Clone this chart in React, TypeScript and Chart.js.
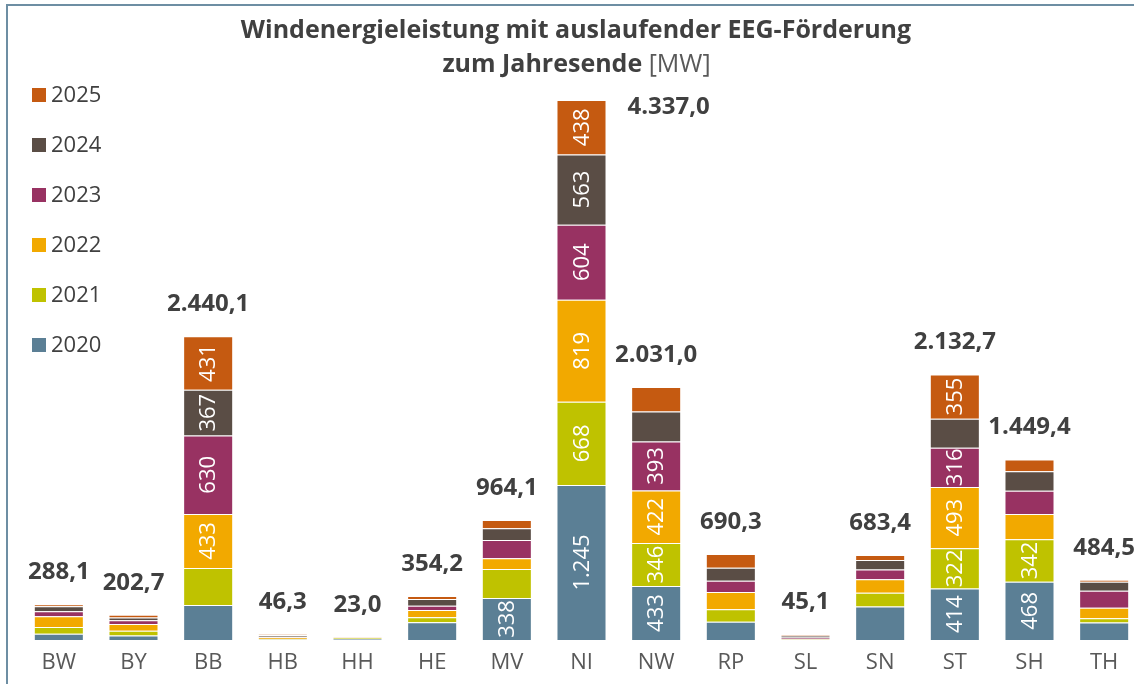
import React, { useEffect, useRef } from "react";
import { Chart, registerables } from "chart.js";

Chart.register(...registerables);

const states = ["BW", "BY", "BB", "HB", "HH", "HE", "MV", "NI", "NW", "RP", "SL", "SN", "ST", "SH", "TH"];
const years = ["2020", "2021", "2022", "2023", "2024", "2025"];
const mw2020 = [51, 36, 282, 4, 8, 142, 338, 1245, 433, 147, 3, 268.4, 414, 468, 141];
const mw2021 = [54, 38, 297.1, 4, 9, 40, 233, 668, 346, 99, 3, 112, 322, 342, 34];
const mw2022 = [86, 55, 433, 14, 2, 59, 86, 819, 422, 139, 5, 107, 493, 202, 85];
const mw2023 = [40, 30, 630, 4, 1, 35, 147, 604, 393, 91, 10, 78, 316, 186, 136];
const mw2024 = [40, 22, 367, 14, 2, 54, 94, 563, 241, 104, 16, 78, 232.7, 158, 72];
const mw2025 = [17.1, 21.7, 431, 6.3, 1, 24.2, 66.1, 438, 196, 110.3, 8.1, 40, 355, 93.4, 16.5];
const series = [mw2020, mw2021, mw2022, mw2023, mw2024, mw2025];
const colors = ["#5b7f95", "#bfc200", "#f2a900", "#983262", "#5a4d45", "#c55a11"];

const titleLine1 = "Windenergieleistung mit auslaufender EEG-Förderung";
const titleLine2Bold = "zum Jahresende";
const titleLine2Unit = " [MW]";

const LABEL_MIN = 300;
const FONT = "'Open Sans', sans-serif";

const sep = (s: string) => s.replace(/\B(?=(\d{3})+(?!\d))/g, ".");
const fmtInt = (v: number) => sep(String(Math.round(v)));
const fmtTotal = (v: number) => {
  const [i, d] = v.toFixed(1).split(".");
  return sep(i) + "," + d;
};

const overlay = {
  id: "overlay",
  afterDatasetsDraw(chart: any) {
    const ctx = chart.ctx;
    const area = chart.chartArea;
    const yScale = chart.scales.y;
    ctx.save();
    ctx.fillStyle = "#ffffff";
    ctx.font = `22px ${FONT}`;
    ctx.textAlign = "center";
    ctx.textBaseline = "middle";
    chart.data.datasets.forEach((ds: any, di: number) => {
      const meta = chart.getDatasetMeta(di);
      meta.data.forEach((el: any, i: number) => {
        const v = ds.data[i];
        if (v < LABEL_MIN) return;
        const p = el.getProps(["x", "y", "base"], true);
        ctx.save();
        ctx.translate(p.x, (p.y + p.base) / 2);
        ctx.rotate(-Math.PI / 2);
        ctx.fillText(fmtInt(v), 0, 1);
        ctx.restore();
      });
    });
    ctx.font = `bold 24px ${FONT}`;
    ctx.fillStyle = "#404040";
    chart.data.labels.forEach((_: any, i: number) => {
      const total = chart.data.datasets.reduce((s: number, ds: any) => s + ds.data[i], 0);
      const topPx = yScale.getPixelForValue(total);
      const el = chart.getDatasetMeta(0).data[i];
      const ly = topPx - 32;
      if (ly - 12 < area.top) {
        ctx.textAlign = "left";
        ctx.fillText(fmtTotal(total), el.x + el.width / 2 + 21, topPx + 7);
      } else {
        ctx.textAlign = "center";
        ctx.fillText(fmtTotal(total), el.x, ly);
      }
    });
    ctx.restore();
  },
  afterDraw(chart: any) {
    const ctx = chart.ctx;
    ctx.save();
    // title
    ctx.fillStyle = "#404040";
    ctx.textBaseline = "middle";
    ctx.textAlign = "center";
    ctx.font = `bold 25px ${FONT}`;
    ctx.fillText(titleLine1, 568, 25);
    const wb = ctx.measureText(titleLine2Bold).width;
    ctx.font = `25px ${FONT}`;
    const wu = ctx.measureText(titleLine2Unit).width;
    const x0 = 568.5 - (wb + wu) / 2;
    ctx.textAlign = "left";
    ctx.font = `bold 25px ${FONT}`;
    ctx.fillText(titleLine2Bold, x0, 59);
    ctx.font = `25px ${FONT}`;
    ctx.fillStyle = "#595959";
    ctx.fillText(titleLine2Unit, x0 + wb, 59);
    // legend
    ctx.font = `22px ${FONT}`;
    const n = chart.data.datasets.length;
    for (let k = n - 1; k >= 0; k--) {
      const ds = chart.data.datasets[k];
      const r = n - 1 - k;
      const yc = 89 + 50 * r;
      ctx.fillStyle = ds.backgroundColor;
      ctx.fillRect(24, yc - 7, 14, 14);
      ctx.fillStyle = "#404040";
      ctx.fillText(ds.label, 43, yc + 1);
    }
    ctx.restore();
  },
};

export default function App() {
  const ref = useRef<HTMLCanvasElement>(null);
  useEffect(() => {
    const chart = new Chart(ref.current as HTMLCanvasElement, {
      type: "bar",
      data: {
        labels: states,
        datasets: series.map((d, k) => ({
          label: years[k],
          data: d,
          backgroundColor: colors[k],
          borderColor: "rgba(255,255,255,0.25)",
          borderWidth: 1,
          barPercentage: 0.67,
          categoryPercentage: 1,
        })),
      },
      options: {
        responsive: false,
        animation: false,
        layout: { padding: { left: 13.5, right: 16.5, top: 73.7, bottom: 0 } },
        plugins: {
          legend: { display: false },
          tooltip: { enabled: false },
          title: { display: false },
        },
        scales: {
          x: {
            stacked: true,
            grid: { display: false, drawTicks: false },
            border: { display: false },
            ticks: { font: { family: FONT, size: 22 }, color: "#595959", padding: 10 },
            afterFit: (s: any) => {
              s.height = 44;
            },
          },
          y: { stacked: true, display: false, min: 0, max: 4500 },
        },
      },
      plugins: [overlay],
    } as any);
    return () => chart.destroy();
  }, []);
  return (
    <div style={{ position: "fixed", left: 0, top: 0, width: 1134, height: 684, overflow: "hidden", background: "#fff" }}>
      <div
        style={{
          position: "absolute",
          left: 6,
          top: 4,
          borderLeft: "2px solid #6d8ea3",
          borderTop: "2px solid #6d8ea3",
          width: 1150,
          height: 678,
        }}
      >
        <canvas ref={ref} width={1150} height={678} style={{ display: "block" }} />
      </div>
    </div>
  );
}
